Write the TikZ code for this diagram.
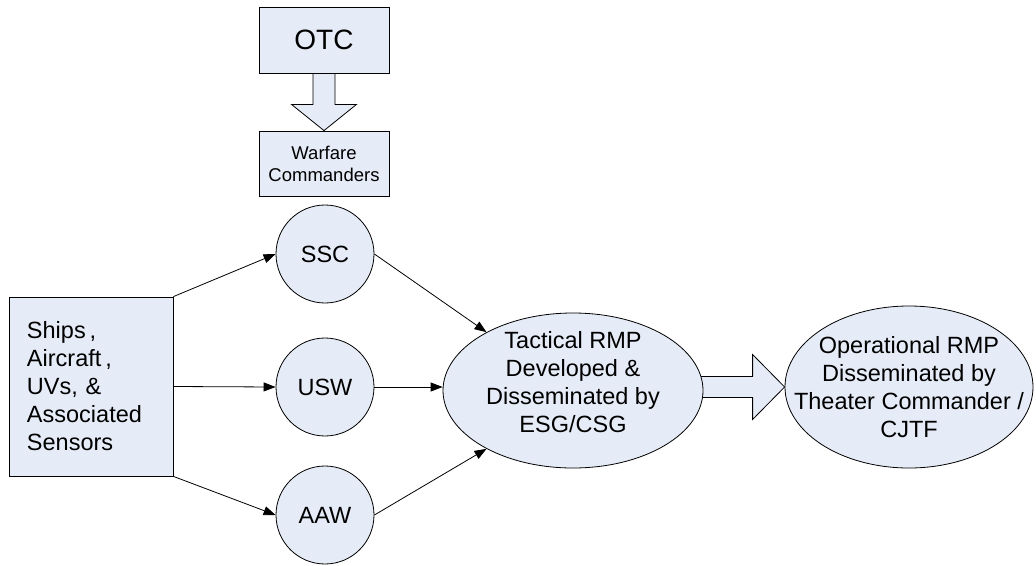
\documentclass[tikz,border=0pt]{standalone}
\usepackage{fontspec}
\setmainfont{Liberation Sans}
\usetikzlibrary{shapes.geometric,arrows.meta,calc,backgrounds}
\definecolor{shapefill}{RGB}{230,236,247}
\begin{document}
\begin{tikzpicture}[x=1pt,y=-1pt,
  shapebase/.style={draw=black, line width=0.8pt, fill=shapefill, inner sep=0pt},
  rectbox/.style={shapebase, rectangle},
  roundnode/.style={shapebase, circle, minimum size=98pt, font=\fontsize{23.5}{28}\selectfont},
  ovalnode/.style={shapebase, ellipse},
  ovaltext/.style={align=center, inner sep=0pt, font=\fontsize{23.5}{28}\selectfont},
  conn/.style={draw=black, line width=0.8pt, -{Triangle[length=12pt,width=9pt]}},
  blockarrow/.style={draw=black, line width=0.8pt, fill=shapefill, line join=miter}]
\useasboundingbox (0,0) rectangle (1036,565);

% top boxes
\node[rectbox, minimum width=130pt, minimum height=66pt, font=\fontsize{28}{32}\selectfont] (otc) at (324,40) {OTC};
\node[rectbox, minimum width=130pt, minimum height=65pt, align=center, font=\fontsize{18.5}{22}\selectfont] (wc) at (324,163.5) {Warfare\\Commanders};

% source box
\node[rectbox, minimum height=179pt, text width=128pt, inner xsep=18pt, align=left, font=\fontsize{23.5}{28}\selectfont] (ships) at (91,386.5) {Ships\,,\\Aircraft\,,\\UVs, \&\\Associated\\Sensors};

% circles
\node[roundnode] (ssc) at (325,254) {SSC};
\node[roundnode] (usw) at (325,387) {USW};
\node[roundnode] (aaw) at (325,515) {AAW};

% ellipses
\node[ovalnode, minimum width=260pt, minimum height=155pt] (tac) at (573,390.5) {};
\node[ovaltext] (tact) at (573,382) {Tactical RMP\\Developed \&\\Disseminated by\\ESG/CSG};
\node[ovalnode, minimum width=248pt, minimum height=162pt] (op) at (909,387) {};
\node[ovaltext] (opt) at (909,387) {Operational RMP\\Disseminated by\\Theater Commander /\\CJTF};

% connectors
\draw[conn] (ships.north east) -- (ssc.west);
\draw[conn] (ships.east) -- (usw.west);
\draw[conn] (ships.south east) -- (aaw.west);
\draw[conn] (ssc.east) -- (tac.146);
\draw[conn] (usw.east) -- (tac.west |- usw.east);
\draw[conn] (aaw.east) -- (tac.214);

% block arrows
\begin{scope}[on background layer]
\draw[blockarrow] ($(otc.south)+(-11,0)$) -- ($(otc.south)+(-11,31)$) -- ($(otc.south)+(-32.5,31)$) -- (wc.north) -- ($(otc.south)+(32.5,31)$) -- ($(otc.south)+(11,31)$) -- ($(otc.south)+(11,0)$) -- cycle;
\draw[blockarrow] ($(op.west)+(-90,-10.5)$) -- ($(op.west)+(-32,-10.5)$) -- ($(op.west)+(-32,-32.5)$) -- (op.west) -- ($(op.west)+(-32,32.5)$) -- ($(op.west)+(-32,10.5)$) -- ($(op.west)+(-90,10.5)$) -- cycle;
\end{scope}
\end{tikzpicture}
\end{document}
